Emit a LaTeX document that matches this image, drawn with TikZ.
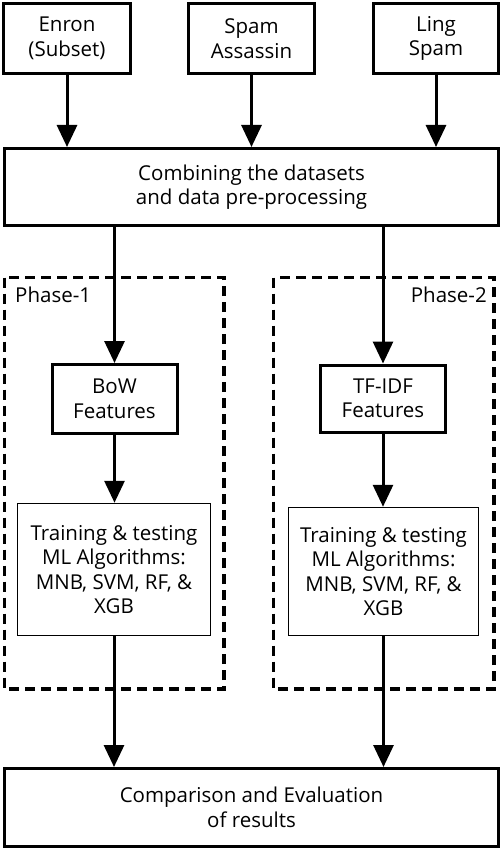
\documentclass[tikz,border=0pt]{standalone}
\usepackage{fontspec}
\setmainfont{Open Sans}
\usetikzlibrary{arrows.meta,positioning}

\tikzset{
  thickbox/.style={draw, line width=3pt, align=center, inner sep=0pt, font=\fontsize{20.5}{24.5}\selectfont},
  thinbox/.style={draw, line width=1.5pt, align=center, inner sep=0pt, font=\fontsize{20.5}{24.5}\selectfont},
  flow/.style={line width=3pt, -{Triangle[length=22pt,width=20pt]}},
  phase/.style={line width=3.5pt, dash pattern=on 10pt off 6pt}
}

\begin{document}
\begin{tikzpicture}[x=1pt,y=-1pt]
  \useasboundingbox (0,0) rectangle (502,850);

  % data sources
  \node[thickbox, minimum width=127pt, minimum height=70pt] (enron) at (67,38.5) {Enron\\(Subset)};
  \node[thickbox, minimum width=126pt, minimum height=70pt] (assassin) at (251.5,38.5) {Spam\\Assassin};
  \node[thickbox, minimum width=125pt, minimum height=70pt] (ling) at (436,38.5) {Ling\\Spam};

  \node[thickbox, minimum width=494pt, minimum height=77pt] (combine) at (251.5,187) {Combining the datasets\\and data pre-processing};

  % the two phases
  \draw[phase] (4.5,277.5) rectangle (224,689);
  \draw[phase] (273.5,277.5) rectangle (494,689);
  \node[anchor=west, inner sep=0pt, font=\fontsize{20.5}{24.5}\selectfont] (ph1) at (15,295) {Phase-1};
  \node[anchor=east, inner sep=0pt, font=\fontsize{20.5}{24.5}\selectfont] (ph2) at (487,295) {Phase-2};

  \node[thickbox, minimum width=125pt, minimum height=69pt] (bow) at (114.5,399) {BoW\\Features};
  \node[thickbox, minimum width=125pt, minimum height=67pt] (tfidf) at (383,398.5) {TF-IDF\\Features};

  \node[thinbox, minimum width=193pt, minimum height=132pt] (train1) at (114,569.5) {Training \& testing\\ML Algorithms:\\MNB, SVM, RF, \&\\XGB};
  \node[thinbox, minimum width=190pt, minimum height=128pt] (train2) at (383.5,571.5) {Training \& testing\\ML Algorithms:\\MNB, SVM, RF, \&\\XGB};

  \node[thickbox, minimum width=494pt, minimum height=78pt] (result) at (251.5,807.5) {Comparison and Evaluation\\of results};

  \draw[flow] (enron) -- (enron |- combine.north);
  \draw[flow] (assassin) -- (assassin |- combine.north);
  \draw[flow] (ling) -- (ling |- combine.north);
  \draw[flow] (combine.south -| bow) -- (bow);
  \draw[flow] (combine.south -| tfidf) -- (tfidf);
  \draw[flow] (bow) -- (bow |- train1.north);
  \draw[flow] (tfidf) -- (tfidf |- train2.north);
  \draw[flow] (train1) -- (train1 |- result.north);
  \draw[flow] (train2) -- (train2 |- result.north);
\end{tikzpicture}
\end{document}
